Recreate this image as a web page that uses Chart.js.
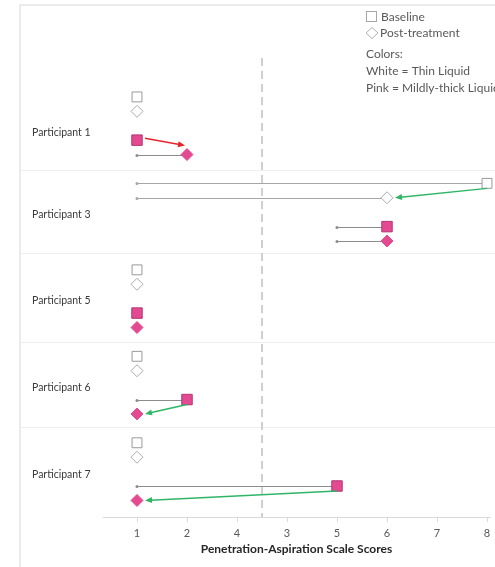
<!DOCTYPE html>
<html>
<head>
<meta charset="utf-8">
<script src="https://cdn.jsdelivr.net/npm/chart.js@4.4.1/dist/chart.umd.min.js"></script>
<style>
  html, body { margin: 0; padding: 0; background: #ffffff; }
  #wrap { width: 495px; height: 567px; position: relative; }
</style>
</head>
<body>
<div id="wrap"><canvas id="c" width="495" height="567"></canvas></div>
<script>
// Penetration-Aspiration Scale scores per participant
const participants = ['Participant 1', 'Participant 3', 'Participant 5', 'Participant 6', 'Participant 7'];
const thinBaseline = [1, 8, 1, 1, 1];
const thinPost     = [1, 6, 1, 1, 1];
const mildBaseline = [1, 6, 1, 2, 5];
const mildPost     = [2, 6, 1, 1, 1];
// lower end of the range whisker drawn to the left of a marker (null = none)
const thinBaselineLow = [null, 1, null, null, null];
const thinPostLow     = [null, 1, null, null, null];
const mildBaselineLow = [null, 5, null, 1, 1];
const mildPostLow     = [1, 5, null, null, null];
// x-axis tick values and the labels printed under them
const tickValues = [1, 2, 3, 4, 5, 6, 7, 8];
const tickLabels = ['1', '2', '4', '3', '5', '6', '7', '8'];
// boundaries between participant bands (in row units)
const groupBounds = [-0.5, 5.1, 10.8, 17, 22.9, 29.15];
const cutoff = 3.5;

// row layout inside each participant band
const GROUP_STEP = 6;
const ROW = { thinBase: 0, thinPost: 1, mildBase: 3, mildPost: 4 };

const PINK = '#e34a92';
const PINK_EDGE = '#b2366f';
const AXIS_GREY = '#d9d9d9';
const FONT = 'Lato, "Open Sans", sans-serif';

function toPoints(values, row) {
  return values.map((v, i) => ({ x: v, y: i * GROUP_STEP + row }));
}

const series = [
  { key: 'thinBase', values: thinBaseline, low: thinBaselineLow, whisker: '#a6a6a6' },
  { key: 'thinPost', values: thinPost, low: thinPostLow, whisker: '#a6a6a6' },
  { key: 'mildBase', values: mildBaseline, low: mildBaselineLow, whisker: '#8c8c8c' },
  { key: 'mildPost', values: mildPost, low: mildPostLow, whisker: '#8c8c8c' }
];

// frame, band separators, the dashed cut-off line, whiskers and row names
const backdrop = {
  id: 'backdrop',
  beforeDatasetsDraw(chart) {
    const { ctx, chartArea, scales: { x, y } } = chart;
    ctx.save();
    ctx.strokeStyle = '#ebebeb';
    ctx.lineWidth = 2;
    ctx.beginPath();
    ctx.moveTo(20, 567);
    ctx.lineTo(20, 5);
    ctx.lineTo(495, 5);
    ctx.stroke();

    ctx.strokeStyle = '#efefef';
    ctx.lineWidth = 1;
    groupBounds.slice(1, -1).forEach(b => {
      const py = Math.round(y.getPixelForValue(b)) + 0.5;
      ctx.beginPath();
      ctx.moveTo(21, py);
      ctx.lineTo(495, py);
      ctx.stroke();
    });

    // short tick marks under the x axis line
    ctx.strokeStyle = AXIS_GREY;
    tickValues.forEach(v => {
      const px = Math.round(x.getPixelForValue(v)) + 0.5;
      ctx.beginPath();
      ctx.moveTo(px, chartArea.bottom);
      ctx.lineTo(px, chartArea.bottom + 5);
      ctx.stroke();
    });

    const cx = x.getPixelForValue(cutoff);
    ctx.strokeStyle = '#cfcfcf';
    ctx.lineWidth = 2;
    ctx.setLineDash([8, 5]);
    ctx.beginPath();
    ctx.moveTo(cx, chartArea.top);
    ctx.lineTo(cx, chartArea.bottom);
    ctx.stroke();
    ctx.setLineDash([]);

    // range whiskers
    series.forEach(s => {
      s.values.forEach((v, i) => {
        const lo = s.low[i];
        if (lo === null) return;
        const py = Math.round(y.getPixelForValue(i * GROUP_STEP + ROW[s.key])) + 0.5;
        const x0 = x.getPixelForValue(lo);
        const x1 = x.getPixelForValue(v);
        ctx.strokeStyle = s.whisker;
        ctx.lineWidth = 1;
        ctx.beginPath();
        ctx.moveTo(x0, py);
        ctx.lineTo(x1, py);
        ctx.stroke();
        ctx.fillStyle = s.whisker;
        ctx.beginPath();
        ctx.arc(x0, py, 1.5, 0, Math.PI * 2);
        ctx.fill();
      });
    });

    // participant names, centred in their band
    ctx.fillStyle = '#3a3a3a';
    ctx.font = '10.5px ' + FONT;
    ctx.textAlign = 'left';
    ctx.textBaseline = 'middle';
    participants.forEach((p, i) => {
      const mid = (groupBounds[i] + groupBounds[i + 1]) / 2 + 0.2;
      ctx.fillText(p, 32, y.getPixelForValue(mid));
    });
    ctx.restore();
  }
};

function drawArrow(ctx, x0, y0, x1, y1, color) {
  const a = Math.atan2(y1 - y0, x1 - x0);
  const L = 7, W = 3;
  ctx.strokeStyle = color;
  ctx.fillStyle = color;
  ctx.lineWidth = 1.5;
  ctx.beginPath();
  ctx.moveTo(x0, y0);
  ctx.lineTo(x1 - Math.cos(a) * L * 0.8, y1 - Math.sin(a) * L * 0.8);
  ctx.stroke();
  ctx.beginPath();
  ctx.moveTo(x1, y1);
  ctx.lineTo(x1 - L * Math.cos(a) + W * Math.sin(a), y1 - L * Math.sin(a) - W * Math.cos(a));
  ctx.lineTo(x1 - L * Math.cos(a) - W * Math.sin(a), y1 - L * Math.sin(a) + W * Math.cos(a));
  ctx.closePath();
  ctx.fill();
}

// change arrows from baseline to post-treatment
const changeArrows = {
  id: 'changeArrows',
  afterDatasetsDraw(chart) {
    const { ctx, scales: { x, y } } = chart;
    const pairs = [
      { base: thinBaseline, post: thinPost, r0: ROW.thinBase, r1: ROW.thinPost },
      { base: mildBaseline, post: mildPost, r0: ROW.mildBase, r1: ROW.mildPost }
    ];
    ctx.save();
    pairs.forEach(pr => {
      pr.base.forEach((b, i) => {
        const p = pr.post[i];
        if (b === p) return;
        const bx = x.getPixelForValue(b), by = y.getPixelForValue(i * GROUP_STEP + pr.r0);
        const px = x.getPixelForValue(p), py = y.getPixelForValue(i * GROUP_STEP + pr.r1);
        if (p < b) {
          drawArrow(ctx, bx, by + 5, px + 8, py, '#2fb566');
        } else {
          drawArrow(ctx, bx + 8, by - 2, px - 2, py - 9, '#e5252b');
        }
      });
    });
    ctx.restore();
  }
};

// key in the upper right corner
const keyBox = {
  id: 'keyBox',
  afterDraw(chart) {
    const { ctx } = chart;
    ctx.save();
    ctx.fillStyle = '#ffffff';
    ctx.strokeStyle = '#a6a6a6';
    ctx.lineWidth = 1;
    ctx.fillRect(366.5, 11.5, 10, 10);
    ctx.strokeRect(366.5, 11.5, 10, 10);
    ctx.beginPath();
    ctx.moveTo(372, 27.5);
    ctx.lineTo(378, 33);
    ctx.lineTo(372, 38.5);
    ctx.lineTo(366, 33);
    ctx.closePath();
    ctx.strokeStyle = '#b0b0b0';
    ctx.stroke();

    ctx.fillStyle = '#595959';
    ctx.font = '12px ' + FONT;
    ctx.textAlign = 'left';
    ctx.textBaseline = 'middle';
    ctx.fillText('Baseline', 381, 17);
    ctx.fillText('Post-treatment', 380, 33);
    ctx.fillText('Colors:', 366, 54);
    ctx.fillText('White = Thin Liquid', 366, 71);
    ctx.fillText('Pink = Mildly-thick Liquid', 366, 88);
    ctx.restore();
  }
};

new Chart(document.getElementById('c'), {
  type: 'scatter',
  data: {
    datasets: [
      { label: 'Baseline (thin)', data: toPoints(thinBaseline, ROW.thinBase), pointStyle: 'rect', pointRadius: 7,
        backgroundColor: '#ffffff', borderColor: '#9a9a9a', borderWidth: 1, clip: false },
      { label: 'Post-treatment (thin)', data: toPoints(thinPost, ROW.thinPost), pointStyle: 'rectRot', pointRadius: 6,
        backgroundColor: '#ffffff', borderColor: '#ababab', borderWidth: 1, clip: false },
      { label: 'Baseline (mildly thick)', data: toPoints(mildBaseline, ROW.mildBase), pointStyle: 'rect', pointRadius: 7.4,
        backgroundColor: PINK, borderColor: PINK_EDGE, borderWidth: 1, clip: false },
      { label: 'Post-treatment (mildly thick)', data: toPoints(mildPost, ROW.mildPost), pointStyle: 'rectRot', pointRadius: 6,
        backgroundColor: PINK, borderColor: PINK, borderWidth: 1, clip: false }
    ]
  },
  options: {
    responsive: false,
    animation: false,
    devicePixelRatio: 1,
    layout: { autoPadding: false, padding: { left: 103, right: 5, top: 58, bottom: 12.2 } },
    plugins: { legend: { display: false }, tooltip: { enabled: false } },
    scales: {
      x: {
        type: 'linear',
        min: 0.32,
        max: 8.06,
        afterBuildTicks: axis => { axis.ticks = tickValues.map(v => ({ value: v })); },
        ticks: {
          color: '#595959',
          font: { family: FONT, size: 11, lineHeight: 0.8 },
          padding: 0,
          autoSkip: false,
          maxRotation: 0,
          callback: (v, i) => tickLabels[i]
        },
        grid: { drawOnChartArea: false, drawTicks: true, tickLength: 12, tickColor: 'rgba(0,0,0,0)' },
        border: { display: true, color: AXIS_GREY, width: 1 },
        title: {
          display: true,
          text: 'Penetration-Aspiration Scale Scores',
          color: '#262626',
          font: { family: FONT, size: 12, weight: 'bold', lineHeight: 1 },
          padding: { top: 5, bottom: 0 }
        }
      },
      y: {
        type: 'linear',
        display: false,
        reverse: true,
        min: -2.7,
        max: 29.15
      }
    }
  },
  plugins: [backdrop, changeArrows, keyBox]
});
</script>
</body>
</html>
